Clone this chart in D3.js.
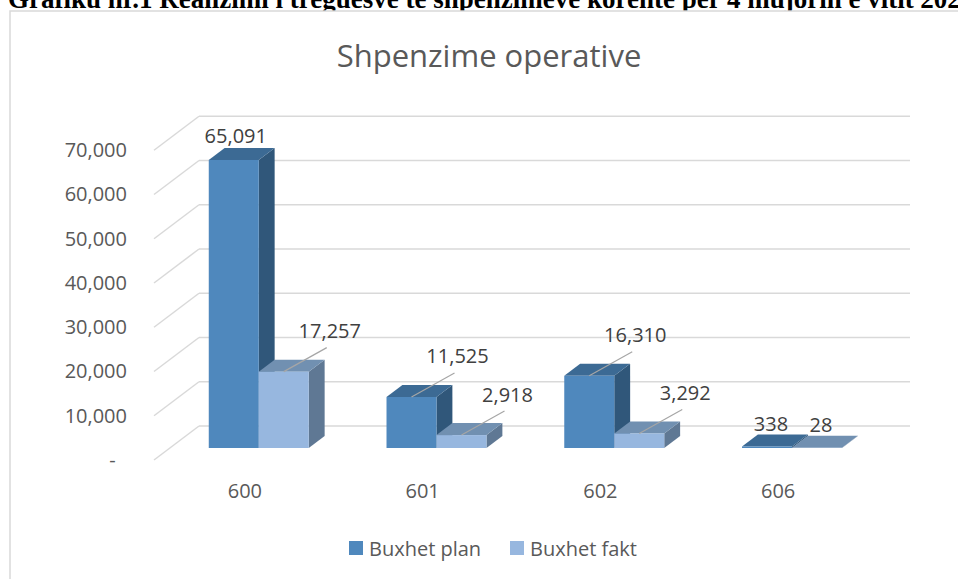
<!DOCTYPE html>
<html>
<head>
<meta charset="utf-8">
<script src="https://cdn.jsdelivr.net/npm/d3@7"></script>
<style>
  body { margin: 0; background: #fff; }
  svg { display: block; }
  text { font-family: "Open Sans", sans-serif; }
</style>
</head>
<body>
<script>
// data
var categories = ["600", "601", "602", "606"];
var seriesNames = ["Buxhet plan", "Buxhet fakt"];
var buxhetPlan = [65091, 11525, 16310, 338];
var buxhetFakt = [17257, 2918, 3292, 28];
var yTicks = [0, 10000, 20000, 30000, 40000, 50000, 60000, 70000];

var W = 958, H = 579;
var floorY = 460;          // front edge of the floor
var depth = [45, -34];     // full depth of the box
var barDepth0 = 0.353, barDepth1 = 0.706;
var backRight = 910;

var faceColors = [
  { front: "#4f88bd", top: "#3c6a94", side: "#30577a" },
  { front: "#97b7df", top: "#7190b1", side: "#5f7894" }
];

const svg = d3
  .select("body")
  .append("svg")
  .attr("width", W)
  .attr("height", H);

// page heading, cut off at the top of the page
svg
  .append("text")
  .attr("x", 8)
  .attr("y", 8)
  .style("font-family", "'Liberation Serif', serif")
  .style("font-weight", "bold")
  .style("font-size", "27px")
  .attr("fill", "#000")
  .text("Grafiku nr.1 Realizimi i treguesve te shpenzimeve korente per 4 mujorin e vitit 2022");

// chart frame
svg
  .append("rect")
  .attr("x", 10)
  .attr("y", 11)
  .attr("width", 1000)
  .attr("height", 700)
  .attr("fill", "#fff")
  .attr("stroke", "#d9d9d9")
  .attr("stroke-width", 1.5);

svg
  .append("text")
  .attr("x", 489)
  .attr("y", 67)
  .attr("text-anchor", "middle")
  .attr("fill", "#595959")
  .style("font-size", "31px")
  .text("Shpenzime operative");

const x = d3
  .scaleBand()
  .domain(categories)
  .range([154, backRight - depth[0]]);

// value -> front-plane y
const y = d3.scaleLinear().domain([0, 70000]).range([floorY, 150.25]);
const h = (v) => floorY - y(v);

// gridlines: back wall + left wall diagonal
const grid = svg.append("g");
yTicks.forEach(function (t) {
  var fy = y(t);
  grid
    .append("line")
    .attr("x1", x.range()[0])
    .attr("y1", fy)
    .attr("x2", x.range()[0] + depth[0])
    .attr("y2", fy + depth[1])
    .attr("stroke", "#d9d9d9")
    .attr("stroke-width", 1.5);
  grid
    .append("line")
    .attr("x1", x.range()[0] + depth[0])
    .attr("y1", fy + depth[1])
    .attr("x2", backRight)
    .attr("y2", fy + depth[1])
    .attr("stroke", "#d9d9d9")
    .attr("stroke-width", 1.5);
});

// y axis
const yAxis = d3
  .axisLeft(y)
  .tickValues(yTicks)
  .tickSize(0)
  .tickPadding(0)
  .tickFormat((v) => (v === 0 ? "-\u2007" : d3.format(",")(v)));

svg
  .append("g")
  .attr("transform", "translate(127,0)")
  .call(yAxis)
  .call((g) => g.select(".domain").remove())
  .selectAll("text")
  .attr("fill", "#595959")
  .style("font-family", "'Open Sans', sans-serif")
  .style("font-size", "20px");

// x axis
const xAxis = d3.axisBottom(x).tickSize(0).tickPadding(0);
svg
  .append("g")
  .attr("transform", "translate(2,484)")
  .call(xAxis)
  .call((g) => g.select(".domain").remove())
  .selectAll("text")
  .attr("fill", "#595959")
  .style("font-family", "'Open Sans', sans-serif")
  .style("font-size", "20px");

// bars
var barW = 50;
var dx0 = depth[0] * barDepth0, dy0 = depth[1] * barDepth0;
var ddx = depth[0] * (barDepth1 - barDepth0), ddy = depth[1] * (barDepth1 - barDepth0);
var series = [buxhetPlan, buxhetFakt];
var bars = svg.append("g");
var labels = svg.append("g");
var fmt = d3.format(",");

categories.forEach(function (c, i) {
  var gx = x(c) + x.bandwidth() / 2 - barW + dx0;
  series.forEach(function (vals, s) {
    var v = vals[i];
    var x0 = gx + s * barW;
    var yb = floorY + dy0;
    var yt = yb - h(v);
    var col = faceColors[s];
    var g = bars.append("g");
    g.append("path")
      .attr("d", d3.line()([[x0 + barW, yt], [x0 + barW + ddx, yt + ddy], [x0 + barW + ddx, yb + ddy], [x0 + barW, yb]]))
      .attr("fill", col.side);
    g.append("path")
      .attr("d", d3.line()([[x0, yt], [x0 + ddx, yt + ddy], [x0 + barW + ddx, yt + ddy], [x0 + barW, yt]]))
      .attr("fill", col.top);
    g.append("rect")
      .attr("x", x0)
      .attr("y", yt)
      .attr("width", barW)
      .attr("height", Math.max(0, yb - yt))
      .attr("fill", col.front);

    // data label
    var ax = x0 + barW / 2, ay = yt;
    var lx, ly, leader = true;
    if (h(v) < 5) {
      lx = ax + 4; ly = ay - 23; leader = false;
    } else if (ay - 53 < 115) {
      lx = ax + 2; ly = ay - 24; leader = false;
    } else {
      lx = ax + 46; ly = ay - 41;
    }
    if (leader) {
      labels
        .append("line")
        .attr("x1", ax)
        .attr("y1", ay)
        .attr("x2", lx - 3)
        .attr("y2", ly + 17)
        .attr("stroke", "#a6a6a6")
        .attr("stroke-width", 1.2);
    }
    labels
      .append("text")
      .attr("x", lx)
      .attr("y", ly)
      .attr("text-anchor", "middle")
      .attr("dominant-baseline", "central")
      .attr("fill", "#404040")
      .style("font-size", "20px")
      .text(fmt(v));
  });
});

// legend
var legend = svg.append("g");
var legendX = [349, 510];
seriesNames.forEach(function (n, s) {
  legend
    .append("rect")
    .attr("x", legendX[s])
    .attr("y", 541)
    .attr("width", 14)
    .attr("height", 14)
    .attr("fill", faceColors[s].front);
  legend
    .append("text")
    .attr("x", legendX[s] + 20)
    .attr("y", 548)
    .attr("dominant-baseline", "central")
    .attr("fill", "#595959")
    .style("font-size", "20px")
    .text(n);
});
</script>
</body>
</html>
